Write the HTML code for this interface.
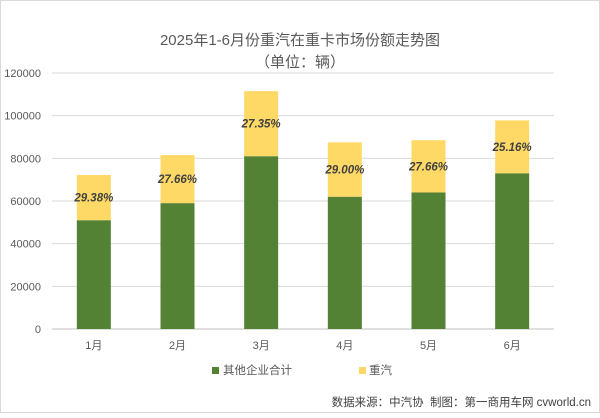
<!DOCTYPE html>
<html><head><meta charset="utf-8"><style>
body{margin:0;background:#fff;}
#c{position:relative;width:600px;height:413px;background:#fff;font-family:"Liberation Sans","Noto Sans CJK SC",sans-serif;}
</style></head><body>
<div id="c">
<svg id="s" width="600" height="413" style="font-family:'Liberation Sans','Noto Sans CJK SC',sans-serif">
<rect x="0.5" y="0.5" width="599" height="412" fill="#fff" stroke="#d9d9d9"/>
<text x="300" y="45" text-anchor="middle" font-size="15" fill="#595959">2025年1-6月份重汽在重卡市场份额走势图</text>
<text x="300" y="67" text-anchor="middle" font-size="15" fill="#595959">（单位：辆）</text>
<g id="grid"></g><g id="bars"></g>
<rect x="212" y="367" width="7" height="7" fill="#548235"/>
<text x="223" y="374" font-size="11.5" fill="#595959">其他企业合计</text>
<rect x="359" y="367" width="7" height="7" fill="#ffd966"/>
<text x="369" y="374" font-size="11.5" fill="#595959">重汽</text>
<text x="591" y="406" text-anchor="end" font-size="11.5" fill="#404040">数据来源：中汽协&#160;&#160;制图：第一商用车网 cvworld.cn</text>
</svg>
</div>
<script>
const categories=["1月","2月","3月","4月","5月","6月"];
const others=[51000,59000,81000,62000,64000,73000];
const zhongqi=[21200,22500,30500,25500,24500,24800];
const shares=["29.38%","27.66%","27.35%","29.00%","27.66%","25.16%"];
const ticks=[0,20000,40000,60000,80000,100000,120000];
const NS="http://www.w3.org/2000/svg";
const x0=52,x1=554,y0=329,yTop=73,yMax=120000;
const y=v=>y0-(v/yMax)*(y0-yTop);
const bw=(x1-x0)/categories.length;
const xc=i=>x0+bw*(i+0.5);
function mk(t,a,p){const e=document.createElementNS(NS,t);for(const k in a)e.setAttribute(k,a[k]);p.appendChild(e);return e;}
const g=document.getElementById('grid'),b=document.getElementById('bars');
ticks.forEach(t=>{
 const l=mk('line',{x1:x0,x2:x1,y1:y(t),y2:y(t),stroke:t===0?'#bfbfbf':'#d9d9d9','stroke-width':1},g);
 
 
 const tx=mk('text',{x:41,y:y(t)+4,'text-anchor':'end','font-size':11,fill:'#595959'},g);
 tx.textContent=t;
 
 
});
categories.forEach((c,i)=>{
 const w=34,x=xc(i)-w/2;
 const r1=mk('rect',{x:x,y:y(others[i]),width:w,height:y0-y(others[i]),fill:'#548235'},b);
 
 
 const tot=others[i]+zhongqi[i];
 const r2=mk('rect',{x:x,y:y(tot),width:w,height:y(others[i])-y(tot),fill:'#ffd966'},b);
 
 
 const lb=mk('text',{x:xc(i),y:(y(tot)+y(others[i]))/2+4,'text-anchor':'middle','font-size':11.5,'font-weight':'bold','font-style':'italic',fill:'#404040'},b);
 lb.textContent=shares[i];
 
 
 const cx=mk('text',{x:xc(i),y:349,'text-anchor':'middle','font-size':11,fill:'#595959'},b);
 cx.textContent=c;
 
 
});
</script>
</body></html>
